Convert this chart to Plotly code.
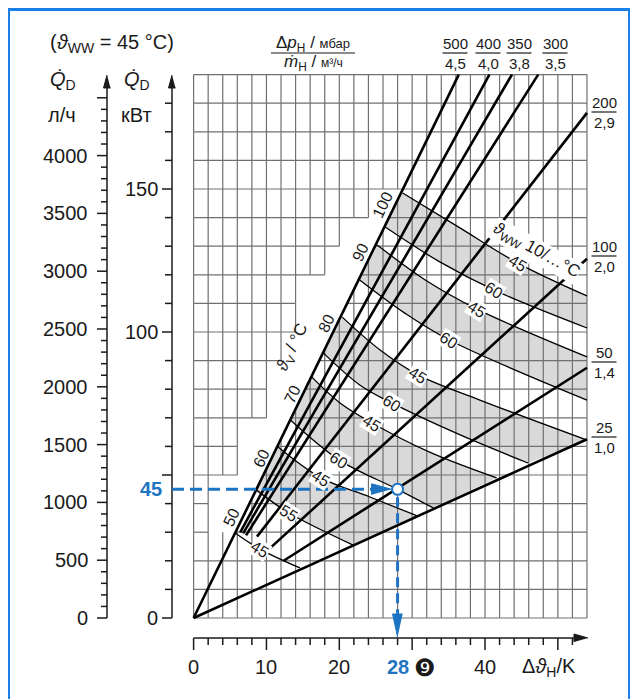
import plotly.graph_objects as go

# ---- values ----
dt_max = 54            # K, right edge of the grid
q_max = 190            # kW, top edge of the grid
grid_dt = list(range(0, 55, 2))
grid_q = list(range(0, 191, 10))
# left of the 500/4,5 line the grid stops early (staircase): row level -> last column
stair_q = [30, 40, 50, 60, 70, 80, 90, 100, 110, 120, 130, 140]
stair_dt = [2, 2, 6, 6, 10, 10, 12, 14, 14, 18, 20, 24]

flow_dp = ['500', '400', '350', '300', '200', '100', '50', '25']
flow_m = ['4,5', '4,0', '3,8', '3,5', '2,9', '2,0', '1,4', '1,0']
flow_dt0 = [0, 6.4, 6.8, 7.2, 8.7, 10.5, 12.3, 0]
flow_dt1 = [36.4, 40.6, 43.7, 47.3, 54, 54, 54, 54]
flow_q1 = [190, 190, 190, 190, 176.6, 125.6, 87.5, 62.5]

curve_tv = [100, 100, 90, 90, 80, 80, 70, 70, 60, 60, 50]
curve_ww = ['45', '60', '45', '60', '45', '60', '45', '60', '45', '55', '45']
curve_dt = [
    [28.7, 36.5, 44.5, 54.0],
    [26.3, 33.8, 41.2, 54.0],
    [25.2, 31.8, 38.9, 54.0],
    [22.8, 29.0, 35.1, 54.0],
    [20.4, 25.6, 30.8, 39.3, 54.0],
    [17.8, 22.8, 27.2, 36.6, 45.9],
    [16.2, 20.1, 24.5, 32.4, 41.6],
    [13.3, 20.0, 28.0, 32.9],
    [11.6, 17.5, 24.2, 30.7],
    [8.6, 13.1, 21.9],
    [5.7, 9.1, 14.6],
]
curve_q = [
    [148.6, 136.5, 124.1, 112.6],
    [136.7, 124.5, 114.7, 101.4],
    [130.4, 118.2, 108.0, 91.3],
    [118.2, 106.6, 97.2, 76.2],
    [105.2, 93.7, 85.0, 76.2, 62.2],
    [92.7, 81.5, 75.2, 64.0, 54.2],
    [84.3, 75.2, 68.2, 58.0, 49.0],
    [69.2, 55.2, 45.0, 38.5],
    [59.8, 49.0, 42.3, 35.7],
    [44.8, 36.7, 25.5],
    [29.7, 24.1, 17.5],
]
band_pairs = [(1, 0), (3, 2), (5, 4), (7, 6), (9, 8)]

example_dt = 28
example_q = 45
lh_per_kw = 24.74

kw_ticks = list(range(0, 181, 10))
kw_labels = [0, 100, 150]
lh_ticks = list(range(0, 4501, 100))
lh_labels = list(range(0, 4001, 500))
dt_ticks = list(range(0, 53, 2))
dt_labels = [0, 10, 20, 40]

# ---- page geometry of the printed chart (px on the page) ----
W, H = 638, 699
OFF = 8                      # page margin around the figure
X0, KPX = 193.6, 7.285
Y0, QPX = 618.0, 2.86
FONT = 'Liberation Sans, Arial, sans-serif'
INK = '#1a1a1a'
BLUE = '#1c74c2'


def dx(px):
    return (px - X0) / KPX


def dy(py):
    return (Y0 - py) / QPX


fig = go.Figure()

# grey bands between the two ϑww curves of one ϑv
for lo, hi in band_pairs:
    fig.add_trace(go.Scatter(x=curve_dt[lo], y=curve_q[lo], mode='lines',
                             line=dict(width=0, shape='spline'), hoverinfo='skip'))
    fig.add_trace(go.Scatter(x=curve_dt[hi], y=curve_q[hi], mode='lines', fill='tonexty',
                             fillcolor='#d9d9d9', line=dict(width=0, shape='spline'),
                             hoverinfo='skip'))

# grid
s45 = flow_q1[0] / flow_dt1[0]
stair = dict(zip(stair_q, stair_dt))
gx, gy = [], []
for q in grid_q:
    cross = q / s45
    stop = stair.get(q)
    segs = [(0, dt_max)] if stop is None or stop >= cross else [(0, stop), (cross, dt_max)]
    for a, b in segs:
        gx += [a, b, None]
        gy += [q, q, None]
for d in grid_dt:
    for q_lo in grid_q[:-1]:
        stop = stair.get(q_lo)
        if stop is None or d <= stop:
            a, b = q_lo, q_lo + 10
        else:
            a, b = q_lo, min(q_lo + 10, s45 * d)
        if b > a:
            gx += [d, d, None]
            gy += [a, b, None]
fig.add_trace(go.Scatter(x=gx, y=gy, mode='lines', line=dict(color='#707070', width=1.2),
                         hoverinfo='skip'))

# ϑv / ϑww curves
for xs, ys in zip(curve_dt, curve_q):
    fig.add_trace(go.Scatter(x=xs, y=ys, mode='lines',
                             line=dict(color='black', width=1.3, shape='spline'),
                             hoverinfo='skip'))

# flow lines Δp/ṁ
for d0, d1, q1 in zip(flow_dt0, flow_dt1, flow_q1):
    k = q1 / d1
    fig.add_trace(go.Scatter(x=[d0, d1], y=[d0 * k, q1], mode='lines',
                             line=dict(color='black', width=2.6), hoverinfo='skip'))

# axes drawn by hand: l/h, kW and Δϑ
ax_lh, ax_kw, ax_dt = dx(107), dx(172), dy(638)
top = dy(82)
axx, axy = [], []
for xa in (ax_lh, ax_kw):
    axx += [xa, xa, None]
    axy += [0, top, None]
axx += [0, dx(576), None]
axy += [ax_dt, ax_dt, None]
for q in kw_ticks:
    ln = 10 if q % 50 == 0 else 7
    axx += [ax_kw - ln / KPX, ax_kw, None]
    axy += [q, q, None]
for v in lh_ticks:
    ln = 10 if v % 500 == 0 else 6
    axx += [ax_lh - ln / KPX, ax_lh, None]
    axy += [v / lh_per_kw, v / lh_per_kw, None]
for d in dt_ticks:
    ln = 12 if d % 10 == 0 else 7
    axx += [d, d, None]
    axy += [ax_dt, ax_dt - ln / QPX, None]
fig.add_trace(go.Scatter(x=axx, y=axy, mode='lines', line=dict(color=INK, width=1.5),
                         hoverinfo='skip'))


def arrow(tx, ty, direction, length, width, color):
    # filled arrow head, tip at page pixel (tx, ty)
    if direction == 'up':
        pts = [(tx, ty), (tx - width / 2, ty + length), (tx + width / 2, ty + length)]
    elif direction == 'down':
        pts = [(tx, ty), (tx - width / 2, ty - length), (tx + width / 2, ty - length)]
    else:
        pts = [(tx, ty), (tx - length, ty - width / 2), (tx - length, ty + width / 2)]
    fig.add_trace(go.Scatter(x=[dx(p[0]) for p in pts], y=[dy(p[1]) for p in pts],
                             mode='lines', fill='toself', fillcolor=color,
                             line=dict(color=color, width=1), hoverinfo='skip'))


arrow(107, 75, 'up', 13, 7, INK)
arrow(172, 75, 'up', 13, 7, INK)
arrow(588, 638, 'right', 14, 8, INK)

# worked example (blue)
px_pt = X0 + example_dt * KPX
py_pt = Y0 - example_q * QPX
fig.add_trace(go.Scatter(x=[ax_kw, dx(px_pt - 24)], y=[example_q, example_q], mode='lines',
                         line=dict(color=BLUE, width=3, dash='12px,6px'), hoverinfo='skip'))
fig.add_trace(go.Scatter(x=[example_dt, example_dt], y=[dy(py_pt + 8), dy(618)], mode='lines',
                         line=dict(color=BLUE, width=3, dash='10px,6px'), hoverinfo='skip'))
fig.add_trace(go.Scatter(x=[example_dt, example_dt], y=[dy(618), dy(616)], mode='lines',
                         line=dict(color=BLUE, width=3), hoverinfo='skip'))
arrow(px_pt - 6, py_pt, 'right', 20, 11, BLUE)
arrow(px_pt, 637, 'down', 23, 10, BLUE)
fig.add_trace(go.Scatter(x=[example_dt], y=[example_q], mode='markers',
                         marker=dict(size=11, color='white', line=dict(color=BLUE, width=2)),
                         hoverinfo='skip'))

# ---- texts ----
annotations = []
shapes = []


def label(px, py, text, size=20, color=INK, angle=0, xanchor='center', bg=None):
    annotations.append(dict(x=dx(px), y=dy(py), xref='x', yref='y', text=text,
                            showarrow=False, textangle=angle, xanchor=xanchor,
                            yanchor='middle', bgcolor=bg, borderpad=0,
                            font=dict(family=FONT, size=size, color=color)))


def fraction(cx, by, num, den, half, size=15):
    label(cx, by - 9.5, num, size)
    label(cx, by + 10, den, size)
    shapes.append(dict(type='line', xref='paper', yref='paper',
                       x0=(cx - half - OFF) / W, x1=(cx + half - OFF) / W,
                       y0=1 - (by - OFF) / H, y1=1 - (by - OFF) / H,
                       line=dict(color=INK, width=1.2)))


for q in kw_labels:
    label(159, Y0 - q * QPX, str(q), xanchor='right')
for v in lh_labels:
    label(89, Y0 - v / lh_per_kw * QPX, str(v), xanchor='right')
for d in dt_labels:
    label(X0 + d * KPX, 667, str(d))
label(px_pt, 667, '<b>%d</b>' % example_dt, color=BLUE)
label(425, 667, '❾', size=24)
label(151, py_pt, '<b>%d</b>' % example_q, color=BLUE)
label(549, 667, 'Δ<i>ϑ</i><sub>Н</sub>/K')

label(112, 43, '(<i>ϑ</i><sub>WW</sub> = 45 °C)')
label(63, 80, '<i>Q̇</i><sub>D</sub>')
label(137, 80, '<i>Q̇</i><sub>D</sub>')
label(62, 115, 'л/ч')
label(136, 115, 'кВт')

fraction(313, 53, 'Δ<i>p</i><sub>Н</sub> / <span style="font-size:13px">мбар</span>',
         '<i>ṁ</i><sub>Н</sub> / <span style="font-size:12px">м³/ч</span>', 42, size=17)
top_x = [455, 488, 519, 555]
for i, cx in enumerate(top_x):
    fraction(cx, 53, flow_dp[i], flow_m[i], 12.5)
right_y = [112, 256, 362, 437]
for i, by in enumerate(right_y):
    fraction(604, by, flow_dp[4 + i], flow_m[4 + i], 12.5)

# ϑv labels along the 500/4,5 line
tv_pos = [(382, 205), (360, 252), (326, 323), (292, 394), (261, 458), (231, 517)]
for t, (px, py) in zip([100, 90, 80, 70, 60, 50], tv_pos):
    label(px, py, str(t), size=16, angle=-64)
label(293, 348, '<i>ϑ</i><sub>V</sub> / °C', size=17, angle=-64)

# ϑww labels on the curves
ww_pos = [(518, 263), (494, 290), (477, 309), (449, 340), (418, 375), (392, 403),
          (372, 423), (339, 460), (321, 478), (289, 513), (260, 549)]
for t, (px, py) in zip(curve_ww, ww_pos):
    label(px, py, t, size=16, angle=32, bg='white')
label(536, 251, '<i>ϑ</i><sub>WW</sub> 10/…°C', size=17, angle=29, bg='white')

# blue frame
shapes.append(dict(type='rect', xref='paper', yref='paper',
                   x0=(8.5 - OFF) / W, x1=(629.5 - OFF) / W,
                   y0=-0.05, y1=1 - (9.5 - OFF) / H, line=dict(color='#1a7fe6', width=3)))

fig.update_layout(
    width=W, height=H, margin=dict(l=0, r=0, t=0, b=0),
    paper_bgcolor='white', plot_bgcolor='white', showlegend=False,
    xaxis=dict(range=[dx(OFF), dx(W + OFF)], domain=[0, 1], visible=False, fixedrange=True),
    yaxis=dict(range=[dy(H + OFF), dy(OFF)], domain=[0, 1], visible=False, fixedrange=True),
    annotations=annotations, shapes=shapes,
)

fig.write_html('out.html')
